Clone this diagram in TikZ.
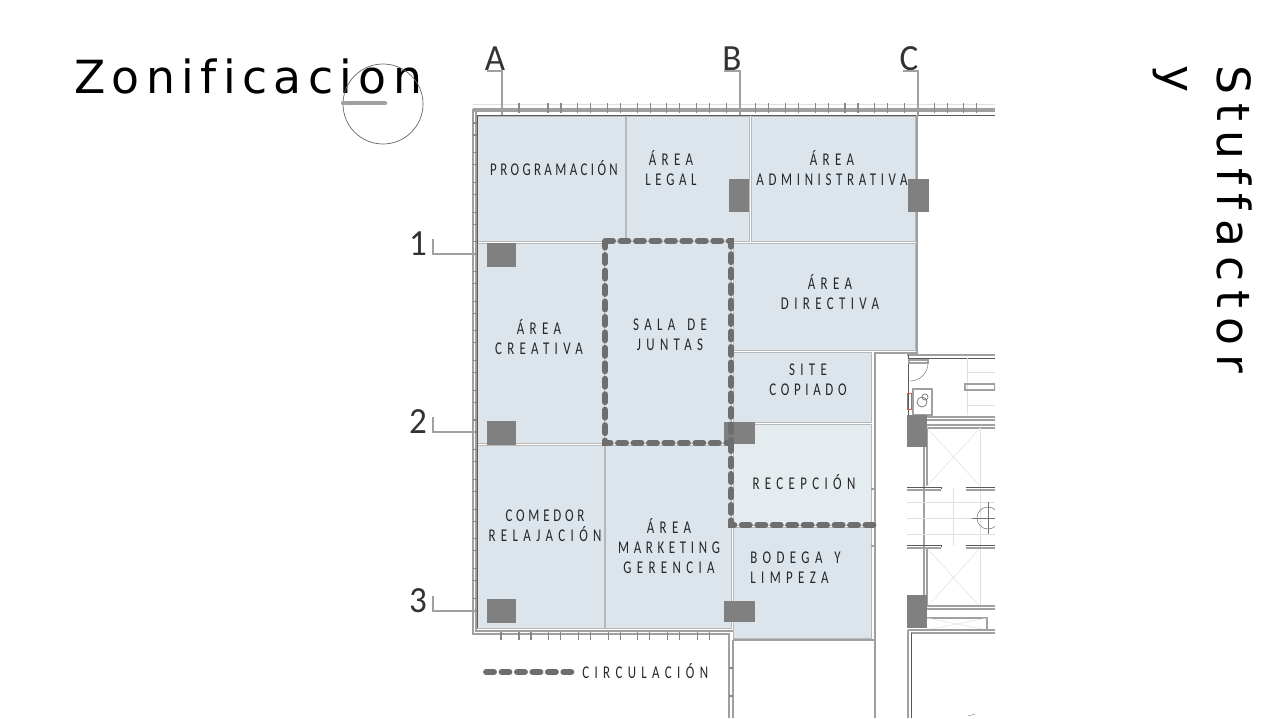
\documentclass[tikz,border=0pt]{standalone}
\usepackage{fontspec}
\setmainfont{Liberation Sans}
\newfontfamily\dinfont[LetterSpace=30,FakeStretch=0.72]{Carlito}
\newfontfamily\ejefont[FakeStretch=0.95]{Carlito}
\newfontfamily\titlefont[LetterSpace=14,Ligatures={NoCommon,NoRequired}]{DejaVu Sans}
\newfontfamily\sidefont[LetterSpace=20,Ligatures={NoCommon,NoRequired}]{DejaVu Sans}
\newcommand{\esp}[2]{{\addfontfeature{LetterSpace=#1}#2}}
\definecolor{roomblue}{HTML}{DDE5EC}
\definecolor{roomlight}{HTML}{E5ECEF}
\definecolor{pillar}{HTML}{808080}
\definecolor{circgray}{HTML}{6E6E6E}
\definecolor{wallgray}{HTML}{A0A0A0}
\tikzset{
  room/.style={fill=roomblue,draw=wallgray!75,line width=.55pt},
  zona/.style={font=\dinfont\fontsize{10.2}{11.3}\selectfont,align=center,text=black!85,inner sep=0pt},
  eje/.style={font=\ejefont\fontsize{21}{21}\selectfont,text=black!80,inner sep=0pt},
  lead/.style={draw=wallgray,line width=1pt},
  wall/.style={draw=wallgray,line width=.6pt},
  walld/.style={draw=black!65,line width=.45pt},
  tick/.style={draw=wallgray!85!black,line width=.6pt},
  thin gris/.style={draw=black!12,line width=.3pt},
  circ/.style={draw=circgray,line width=3.3pt,line cap=round,dash pattern=on 4.6pt off 4.2pt}
}
\begin{document}
\begin{tikzpicture}[x=0.02cm,y=-0.02cm]
\useasboundingbox (0,0) rectangle (1275,718);

\node[font=\titlefont\fontsize{26}{26}\selectfont,anchor=base west,inner sep=0pt] (titulo) at (74,93) {Zonificacion};
\node[font=\sidefont\fontsize{26}{31}\selectfont,rotate=-90,anchor=base west,inner sep=0pt] (lateral) at (1217,65) {Stuffactor};
\node[font=\sidefont\fontsize{26}{31}\selectfont,rotate=-90,anchor=base west,inner sep=0pt] (lateraly) at (1162,65) {y};

\draw[black!60,line width=.4pt] (383,104) circle[radius=40];
\draw[wallgray,line width=2.4pt,line cap=round] (343,103) -- (385,103);

\draw[room] (477,116) rectangle (625,241);
\draw[room] (626,116) rectangle (749,241);
\draw[room] (751,116) rectangle (915,241);
\draw[room] (733,243) rectangle (915,350);
\draw[room] (477,243) rectangle (604,443);
\draw[room] (604,241) rectangle (731,443);
\draw[room] (733,352) rectangle (871,422);
\draw[room,fill=roomlight] (733,424) rectangle (871,525);
\draw[room] (733,527) rectangle (871,638);
\draw[room] (477,445) rectangle (604,628);
\draw[room] (605,445) rectangle (731,628);

\draw[thin gris] (473,104) -- (995,104);
\draw[wall] (473,109) -- (995,109);
\draw[wall] (473,111) -- (995,111);
\draw[walld] (477,115) -- (995,115);
\draw[wall] (473,109) -- (473,634) -- (729,634) -- (729,718);
\draw[wall] (476,111) -- (476,631) -- (733,631);
\draw[walld] (477,116) -- (477,628);
\draw[wall] (733,640) -- (733,718);
\draw[wall] (917,115) -- (917,353) -- (875,353) -- (875,718);
\draw[wall] (733,640) -- (875,640);
\draw[wall] (871,489) -- (875,489);
\draw[wall] (871,546) -- (875,546);

\foreach \i in {0,...,14}{
  \draw[tick] ({548+29.7*\i},103) -- ({548+29.7*\i},113);
  \draw[tick] ({561+29.7*\i},103) -- ({561+29.7*\i},113);
}
\draw[tick] (519,103) -- (519,113);
\foreach \i in {0,...,16}{
  \draw[tick] (473,{123+29.7*\i}) -- (477,{123+29.7*\i});
  \draw[tick] (473,{135+29.7*\i}) -- (477,{135+29.7*\i});
}
\foreach \i in {0,...,6}{
  \draw[tick] ({519+29.7*\i},632) -- ({519+29.7*\i},640);
  \draw[tick] ({531+29.7*\i},632) -- ({531+29.7*\i},640);
}
\draw[tick] (501,632) -- (501,640);
\draw[tick] (729,668) -- (733,668);
\draw[tick] (729,696) -- (733,696);

\fill[pillar] (487,243) rectangle (516,267);
\fill[pillar] (487,421) rectangle (516,445);
\fill[pillar] (487,599) rectangle (516,623);
\fill[pillar] (729,179) rectangle (749,212);
\fill[pillar] (908,179) rectangle (929,212);
\fill[pillar] (724,422) rectangle (755,444);
\fill[pillar] (724,601) rectangle (755,622);

\begin{scope}
\clip (880,340) rectangle (995,718);
\draw[wall] (907,355) -- (995,355);
\draw[walld] (909,358) -- (995,358);
\draw[walld] (908,355) -- (908,415);
\draw[wall] (909,360) rectangle (928,363);
\draw[black!50,line width=.3pt] (928,363) arc[start angle=0,end angle=90,radius=18];
\draw[wall,fill=white] (913,389) rectangle (932,415);
\draw[black!55,line width=.4pt] (922,402) circle[radius=5];
\draw[black!55,line width=.4pt] (925,397) circle[radius=3];
\draw[red!70,line width=.5pt] (907,393) rectangle (911,409);
\draw[thin gris] (967,358) -- (967,415);
\draw[thin gris] (967,372) -- (995,372);
\draw[thin gris] (967,405) -- (995,405);
\draw[wall] (965,384) rectangle (995,390);
\draw[wall] (927,417) -- (995,417);
\draw[wall] (927,420) -- (995,420);
\draw[wall] (927,425) -- (995,425);
\draw[wall] (927,428) -- (995,428);
\draw[wall,line width=1.2pt] (924,447) -- (924,595);
\draw[wall] (927,428) -- (927,486);
\draw[wall] (927,548) -- (927,607);
\draw[thin gris] (927,428) -- (980,486);
\draw[thin gris] (980,428) -- (927,486);
\draw[thin gris] (927,607) -- (980,548);
\draw[thin gris] (980,607) -- (927,548);
\draw[thin gris] (980,428) -- (980,607);
\foreach \y in {502,518,534}{
  \draw[thin gris] (907,\y) -- (995,\y);
}
\draw[thin gris] (953,488) -- (953,546);
\draw[walld] (907,487) -- (941,487) -- (941,489);
\draw[wall] (907,490) -- (941,490);
\draw[walld] (966,487) -- (995,487);
\draw[wall] (966,490) -- (995,490);
\draw[walld] (907,545) -- (941,545) -- (941,547);
\draw[wall] (907,548) -- (941,548);
\draw[walld] (966,545) -- (995,545);
\draw[wall] (966,548) -- (995,548);
\draw[black!55,line width=.3pt] (988,518) circle[radius=11];
\draw[black!55,line width=.3pt] (972,518) -- (995,518);
\draw[black!55,line width=.3pt] (988,502) -- (988,534);
\draw[wall] (927,606) -- (995,606);
\draw[wall] (927,609) -- (995,609);
\draw[wall] (927,618) -- (987,618) -- (987,631);
\draw[thin gris] (927,618) -- (987,630);
\draw[thin gris] (927,630) -- (987,618);
\draw[wall] (908,630) -- (995,630);
\draw[wall] (911,633) -- (995,633);
\draw[wall] (908,630) -- (908,718);
\draw[walld] (911,633) -- (911,718);
\draw[black!40,line width=.3pt] (968,716) -- (975,714);
\fill[pillar] (907,415) rectangle (927,447);
\fill[pillar] (907,595) rectangle (927,628);
\end{scope}

\draw[circ] (605,241) -- (731,241) -- (731,443) -- (605,443) -- cycle;
\draw[circ] (731,443) -- (731,525) -- (875,525);

\node[zona] (programacion) at (554,168) {\esp{19}{PROGRAMACIÓN}};
\node[zona] (legal) at (671,168) {ÁREA\\\esp{26}{LEGAL}};
\node[zona] (administrativa) at (832,168) {ÁREA\\\esp{26}{ADMINISTRATIVA}};
\node[zona] (directiva) at (830,292) {ÁREA\\DIRECTIVA};
\node[zona] (creativa) at (539,337) {ÁREA\\CREATIVA};
\node[zona] (juntas) at (670,335) {SALA\hspace{2pt} DE\\JUNTAS};
\node[zona] (copiado) at (808,380) {SITE\\\esp{26}{COPIADO}};
\node[zona] (recepcion) at (804,482) {RECEPCIÓN};
\node[zona] (comedor) at (545,526) {\esp{21}{COMEDOR}\\RELAJACIÓN};
\node[zona] (marketing) at (669,546) {ÁREA\\\esp{26}{MARKETING}\\GERENCIA};
\node[zona,align=left,anchor=west] (bodega) at (750,568) {BODEGA\hspace{2pt} Y\\LIMPEZA};
\node[zona,anchor=west] (circulacion) at (582,671) {CIRCULACIÓN};
\coordinate (leyenda) at (486,672);
\draw[circ,shorten >=4pt] (leyenda) -- (leyenda -| circulacion.west);

\foreach \n/\x/\xa/\xb in {A/495/487/502,B/732/724/740,C/909/903/918}{
  \node[eje,anchor=base] (eje\n) at (\x,70) {\n};
  \coordinate (eje\n a) at (\xa,71);
  \coordinate (eje\n b) at (\xb,115);
  \draw[lead] (eje\n a) -| (eje\n b);
}
\foreach \n/\y in {1/254,2/432,3/611}{
  \node[eje,anchor=base] (fila\n) at (418,\y+1) {\n};
  \coordinate (fila\n a) at (433,\y-15);
  \coordinate (fila\n b) at (475,\y);
  \draw[lead] (fila\n a) |- (fila\n b);
}
\end{tikzpicture}
\end{document}
